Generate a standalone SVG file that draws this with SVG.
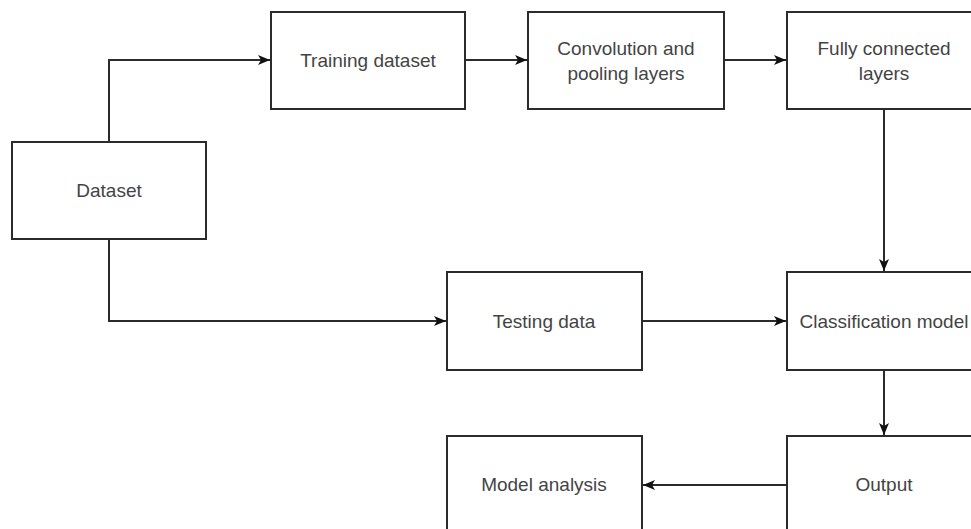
<svg xmlns="http://www.w3.org/2000/svg" width="971" height="529" viewBox="0 0 971 529">
<style>
.box{fill:#fff;stroke:#2b2b2b;stroke-width:2}
.lbl{font-family:"Liberation Sans",Arial,sans-serif;font-size:19px;fill:#444;text-anchor:middle}
.edge{fill:none;stroke:#2b2b2b;stroke-width:2}
</style>
<defs>
<marker id="arr" viewBox="0 0 12 10" refX="12" refY="5" markerWidth="12" markerHeight="10" markerUnits="userSpaceOnUse" orient="auto">
<path d="M0,0 L12,5 L0,10 L3,5 z" fill="#111"/>
</marker>
</defs>
<rect width="971" height="529" fill="#fff"/>
<g id="connectors">
<path class="edge" d="M109,142 V60 H270" marker-end="url(#arr)"/>
<path class="edge" d="M465,60 H527" marker-end="url(#arr)"/>
<path class="edge" d="M724,60 H786" marker-end="url(#arr)"/>
<path class="edge" d="M884,109 V271" marker-end="url(#arr)"/>
<path class="edge" d="M109,239 V321 H446" marker-end="url(#arr)"/>
<path class="edge" d="M642,321 H786" marker-end="url(#arr)"/>
<path class="edge" d="M884,370 V435" marker-end="url(#arr)"/>
<path class="edge" d="M787,485 H643" marker-end="url(#arr)"/>
</g>
<g id="dataset">
<rect class="box" x="12" y="142" width="194" height="97"/>
<text class="lbl" x="109" y="197">Dataset</text>
</g>
<g id="training">
<rect class="box" x="271" y="12" width="194" height="97"/>
<text class="lbl" x="368" y="67">Training dataset</text>
</g>
<g id="conv">
<rect class="box" x="528" y="12" width="196" height="97"/>
<text class="lbl" x="626" y="55">Convolution and</text>
<text class="lbl" x="626" y="80">pooling layers</text>
</g>
<g id="fc">
<rect class="box" x="787" y="12" width="194" height="97"/>
<text class="lbl" x="884" y="55">Fully connected</text>
<text class="lbl" x="884" y="80">layers</text>
</g>
<g id="testing">
<rect class="box" x="447" y="272" width="195" height="98"/>
<text class="lbl" x="544" y="328">Testing data</text>
</g>
<g id="classification">
<rect class="box" x="787" y="272" width="194" height="98"/>
<text class="lbl" x="884" y="328">Classification model</text>
</g>
<g id="output">
<rect class="box" x="787" y="436" width="194" height="98"/>
<text class="lbl" x="884" y="491">Output</text>
</g>
<g id="analysis">
<rect class="box" x="447" y="436" width="195" height="98"/>
<text class="lbl" x="544" y="491">Model analysis</text>
</g>
</svg>
